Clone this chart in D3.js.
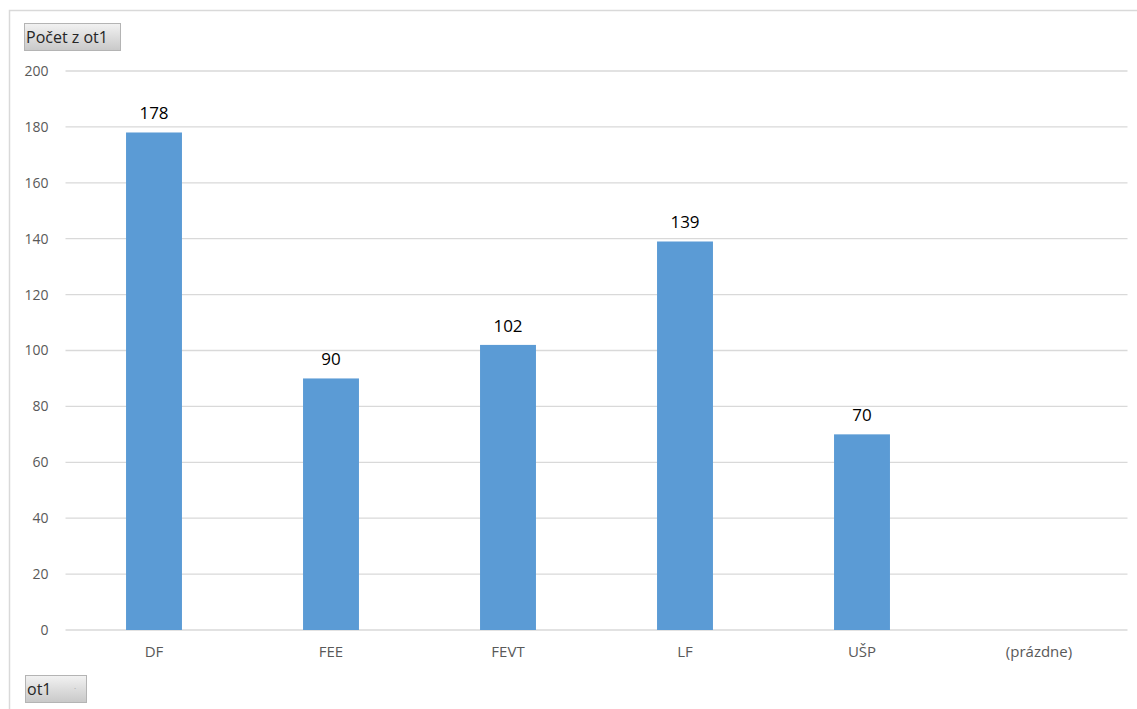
<!DOCTYPE html>
<html>
<head>
<meta charset="utf-8">
<script src="https://cdn.jsdelivr.net/npm/d3@7"></script>
<style>
  body { margin: 0; background: #fff; }
  svg { display: block; font-family: "Open Sans", "Noto Sans", sans-serif; }
</style>
</head>
<body>
<div id="chart"></div>
<script>
// Data
const categories = ["DF", "FEE", "FEVT", "LF", "UŠP", "(prázdne)"];
const counts = [178, 90, 102, 139, 70, null];
const yTicks = [0, 20, 40, 60, 80, 100, 120, 140, 160, 180, 200];

const W = 1137, H = 709;
const plot = { left: 65.5, right: 1127.5, top: 71, bottom: 630 };

const svg = d3.select("#chart").append("svg")
    .attr("width", W)
    .attr("height", H);

// gradient for the field buttons
const grad = svg.append("defs").append("linearGradient")
    .attr("id", "btn").attr("x1", 0).attr("y1", 0).attr("x2", 0).attr("y2", 1);
grad.append("stop").attr("offset", "0%").attr("stop-color", "#f2f2f2");
grad.append("stop").attr("offset", "100%").attr("stop-color", "#c8c8c8");

// chart area border (only top & left visible)
svg.append("path")
    .attr("d", `M9.5,${H} V10.5 H${W}`)
    .attr("fill", "none")
    .attr("stroke", "#d9d9d9")
    .attr("stroke-width", 1.5);

const x = d3.scaleBand().domain(categories).range([plot.left, plot.right]);
const y = d3.scaleLinear().domain([0, 200]).range([plot.bottom, plot.top]);

// gridlines
svg.append("g").selectAll("line").data(yTicks).enter().append("line")
    .attr("x1", plot.left).attr("x2", plot.right)
    .attr("y1", d => y(d)).attr("y2", d => y(d))
    .attr("stroke", "#d9d9d9").attr("stroke-width", 1.3);

// y axis labels
const yAxis = svg.append("g")
    .attr("transform", `translate(${plot.left - 17},0)`)
    .call(d3.axisLeft(y).tickValues(yTicks).tickSize(0).tickPadding(0));
yAxis.select(".domain").remove();
yAxis.selectAll("text")
    .attr("fill", "#595959")
    .style("font-size", "14px")
    .style("font-family", "'Open Sans', sans-serif");

// x axis labels
const xAxis = svg.append("g")
    .attr("transform", `translate(0,${plot.bottom + 16})`)
    .call(d3.axisBottom(x).tickSize(0).tickPadding(0));
xAxis.select(".domain").remove();
xAxis.selectAll("text")
    .attr("fill", "#595959")
    .style("font-size", "15px")
    .style("font-family", "'Open Sans', sans-serif");

// bars
const barW = x.bandwidth() * 0.316;
const barData = categories.map((c, i) => ({ cat: c, v: counts[i] })).filter(d => d.v != null);

svg.append("g").selectAll("rect").data(barData).enter().append("rect")
    .attr("x", d => x(d.cat) + (x.bandwidth() - barW) / 2)
    .attr("y", d => y(d.v))
    .attr("width", barW)
    .attr("height", d => y(0) - y(d.v))
    .attr("fill", "#5b9bd5");

// value labels
svg.append("g").selectAll("text").data(barData).enter().append("text")
    .attr("x", d => x(d.cat) + x.bandwidth() / 2)
    .attr("y", d => y(d.v) - 13)
    .attr("text-anchor", "middle")
    .attr("fill", "#000")
    .style("font-size", "17px")
    .text(d => d.v);

// pivot field buttons
function fieldButton(bx, by, bw, bh, label, arrow) {
    const g = svg.append("g");
    g.append("rect")
        .attr("x", bx + 0.5).attr("y", by + 0.5)
        .attr("width", bw).attr("height", bh)
        .attr("fill", "url(#btn)")
        .attr("stroke", "#b4b4b4");
    g.append("text")
        .attr("x", bx + 2).attr("y", by + bh / 2 + 6)
        .attr("fill", "#262626")
        .style("font-size", "16px")
        .text(label);
    if (arrow) {
        g.append("text")
            .attr("x", bx + bw - 12).attr("y", by + bh / 2 + 2)
            .attr("fill", "#999")
            .style("font-size", "8px")
            .text("·");
    }
}
fieldButton(24, 23, 96, 27, "Počet z ot1", false);
fieldButton(25, 675, 61, 27, "ot1", true);
</script>
</body>
</html>
